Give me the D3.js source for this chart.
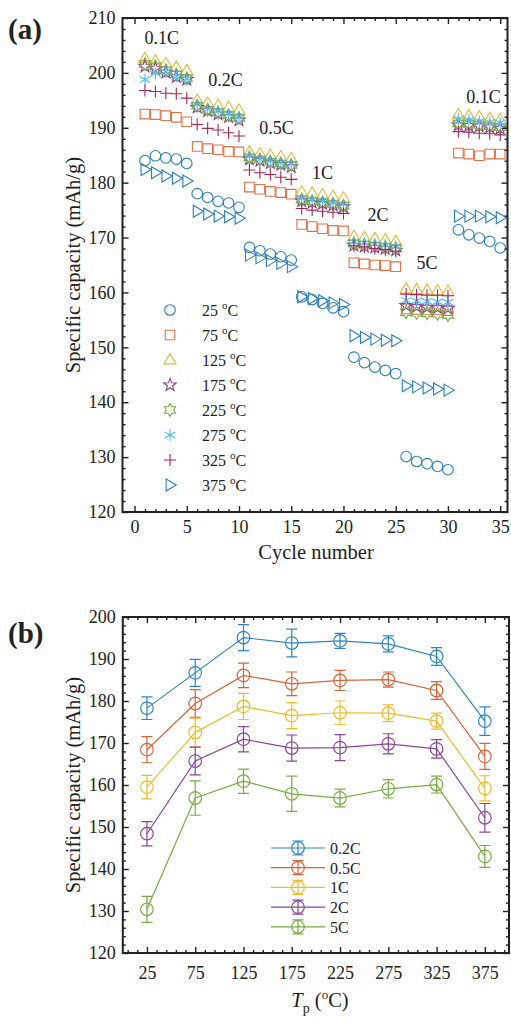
<!DOCTYPE html>
<html><head><meta charset="utf-8">
<script src="https://cdn.jsdelivr.net/npm/d3@7"></script>
<style>
body{margin:0;background:#fff}
svg{display:block}
text{font-family:"Liberation Serif","Times New Roman",serif;fill:#222}
</style>
</head><body>
<svg id="c" width="511" height="1019"></svg>
<script>
// ---------- Panel (a) data ----------
const cycles = d3.range(1, 36);
const tempLabels = ["25", "75", "125", "175", "225", "275", "325", "375"];
const capT25 = [184.0,184.9,184.5,184.3,183.5, 178.0,177.3,176.6,176.3,175.5, 168.2,167.6,167.0,166.5,165.9, 159.2,158.7,158.0,157.2,156.5, 148.2,147.2,146.4,145.8,145.2, 130.1,129.2,128.8,128.3,127.7, 171.4,170.5,169.9,169.3,168.1];
const capT75 = [192.5,192.4,192.2,191.9,191.1, 186.6,186.2,186.0,185.7,185.6, 179.2,178.8,178.4,178.2,177.9, 172.4,172.0,171.6,171.3,171.2, 165.4,165.2,165.0,164.9,164.7, 157.0,156.9,156.8,156.8,156.7, 185.4,185.2,184.9,185.2,185.2];
const capT125 = [202.6,202.2,201.7,201.0,200.4, 195.0,194.5,194.1,193.7,193.2, 185.6,185.3,185.0,184.7,184.4, 178.3,178.1,177.8,177.5,177.2, 170.2,170.0,169.8,169.6,169.3, 160.6,160.5,160.4,160.3,160.2, 192.4,192.2,192.0,191.7,191.5];
const capT175 = [201.2,200.8,200.1,199.3,198.8, 193.7,193.1,192.5,192.0,191.4, 184.3,184.0,183.6,183.3,182.9, 176.7,176.4,176.2,175.9,175.6, 168.6,168.4,168.2,168.0,167.7, 157.6,157.4,157.3,157.2,157.1, 190.5,190.4,190.3,190.1,189.9];
const capT225 = [201.6,201.2,200.5,199.7,199.0, 194.0,193.3,192.8,192.3,191.8, 184.6,184.2,183.8,183.5,183.2, 176.9,176.6,176.4,176.1,175.8, 168.9,168.7,168.5,168.3,168.0, 156.4,156.3,156.2,156.1,155.9, 190.8,190.7,190.5,190.3,190.1];
const capT275 = [198.8,199.9,200.2,199.4,198.9, 194.2,193.4,193.0,192.5,191.9, 184.8,184.3,184.0,183.6,183.4, 177.1,176.8,176.6,176.3,176.0, 169.2,169.0,168.8,168.6,168.4, 158.6,158.5,158.4,158.3,158.2, 191.6,191.4,191.2,191.0,190.9];
const capT325 = [196.8,196.6,196.3,196.2,195.4, 190.6,189.9,189.6,189.1,188.5, 182.3,181.8,181.5,181.0,180.6, 175.3,175.0,174.8,174.6,174.4, 168.5,168.3,168.0,167.8,167.5, 159.7,159.6,159.5,159.5,159.4, 189.3,189.2,189.0,188.9,188.7];
const capT375 = [182.4,181.8,181.2,180.8,180.3, 174.8,174.3,173.9,173.8,173.5, 166.8,166.3,165.8,165.3,164.7, 159.2,158.9,158.5,158.1,157.8, 152.1,151.8,151.5,151.3,151.2, 143.0,142.8,142.6,142.4,142.2, 173.9,173.9,173.9,173.8,173.6];
const xTicksA = [0,5,10,15,20,25,30,35];
const yTicksA = [120,130,140,150,160,170,180,190,200,210];
const rateLabels = ["0.1C","0.2C","0.5C","1C","2C","5C","0.1C"];
const rateLabelCycle = [2.6, 8.7, 13.6, 18.0, 23.3, 28.0, 33.4];
const rateLabelCap = [206.4, 198.7, 190.0, 181.8, 174.1, 165.4, 195.6];

// ---------- Panel (b) data ----------
const tp = [25,75,125,175,225,275,325,375];
const rateNames = ["0.2C","0.5C","1C","2C","5C"];
const cap02 = [178.3,186.7,195.1,193.8,194.3,193.6,190.6,175.2];
const err02 = [2.7,3.2,3.1,3.3,1.8,1.9,2.1,3.4];
const cap05 = [168.4,179.4,186.1,184.1,184.9,185.1,182.5,166.8];
const err05 = [3.1,3.3,2.9,2.8,2.4,1.8,2.1,3.1];
const cap1 = [159.5,172.5,178.7,176.5,177.2,177.1,175.2,159.2];
const err1 = [2.8,3.4,3.1,3.1,2.8,2.0,1.9,3.0];
const cap2 = [148.4,165.7,170.9,168.8,168.9,169.8,168.6,152.2];
const err2 = [2.9,3.3,3.0,3.1,3.1,2.4,2.2,3.4];
const cap5 = [130.4,156.9,160.9,157.9,156.9,159.1,160.1,143.0];
const err5 = [3.1,4.1,2.9,4.2,2.1,2.2,2.0,2.6];
const xTicksB = [25,75,125,175,225,275,325,375];
const yTicksB = [120,130,140,150,160,170,180,190,200];

// ---------- drawing ----------
const svg = d3.select("#c");
const AX = "#222";

function frame(g, x, y, xt, xm, yt, ym, xpad) {
  const [x0, x1] = x.range(), [y0, y1] = y.range();
  const styl = s => { s.select(".domain").remove(); s.selectAll("line").attr("stroke", AX).attr("stroke-width", 1.4); s.selectAll("text").attr("font-size", 18).attr("fill", AX).attr("font-family", "Liberation Serif, Times New Roman, serif"); };
  g.append("g").attr("transform", `translate(0,${y0})`).call(d3.axisBottom(x).tickValues(xt).tickSize(-6).tickSizeOuter(0).tickPadding(xpad)).call(styl);
  g.append("g").attr("transform", `translate(0,${y0})`).call(d3.axisBottom(x).tickValues(xm).tickSize(-3).tickSizeOuter(0).tickFormat("")).call(styl);
  g.append("g").attr("transform", `translate(0,${y1})`).call(d3.axisTop(x).tickValues(xt).tickSize(-6).tickSizeOuter(0).tickFormat("")).call(styl);
  g.append("g").attr("transform", `translate(0,${y1})`).call(d3.axisTop(x).tickValues(xm).tickSize(-3).tickSizeOuter(0).tickFormat("")).call(styl);
  g.append("g").attr("transform", `translate(${x0},0)`).call(d3.axisLeft(y).tickValues(yt).tickSize(-6).tickSizeOuter(0).tickPadding(7)).call(styl);
  g.append("g").attr("transform", `translate(${x0},0)`).call(d3.axisLeft(y).tickValues(ym).tickSize(-3).tickSizeOuter(0).tickFormat("")).call(styl);
  g.append("g").attr("transform", `translate(${x1},0)`).call(d3.axisRight(y).tickValues(yt).tickSize(-6).tickSizeOuter(0).tickFormat("")).call(styl);
  g.append("g").attr("transform", `translate(${x1},0)`).call(d3.axisRight(y).tickValues(ym).tickSize(-3).tickSizeOuter(0).tickFormat("")).call(styl);
  g.append("rect").attr("x", x0).attr("y", y1).attr("width", x1 - x0).attr("height", y0 - y1)
    .attr("fill", "none").attr("stroke", AX).attr("stroke-width", 2);
}

// marker shapes (paths centred at 0,0)
function star(n, ro, ri) {
  const p = [];
  for (let i = 0; i < 2 * n; i++) {
    const a = -Math.PI / 2 + i * Math.PI / n, r = i % 2 ? ri : ro;
    p.push([r * Math.cos(a), r * Math.sin(a)]);
  }
  return "M" + p.map(q => q[0].toFixed(2) + "," + q[1].toFixed(2)).join("L") + "Z";
}
const shapes = [
  "M5.3,0A5.3,5.3 0 1,1 -5.3,0A5.3,5.3 0 1,1 5.3,0Z",
  "M-4.8,-4.8H4.8V4.8H-4.8Z",
  "M0,-6.3L6,3.9L-6,3.9Z",
  star(5, 6.6, 2.7),
  star(6, 6.4, 3.7),
  "M0,-6V6M-5.2,-3L5.2,3M-5.2,3L5.2,-3",
  "M0,-6V6M-6,0H6",
  "M6.3,0L-3.9,-6L-3.9,6Z"
];
const colA = ["#2b7fbf", "#e07448", "#e6b93a", "#8a3f95", "#7aad3e", "#4dbeee", "#a3285a", "#2b7fbf"];
const seriesA = [capT25, capT75, capT125, capT175, capT225, capT275, capT325, capT375];

// ---- Panel (a)
const xA = d3.scaleLinear().domain([-1.15, 35.7]).range([122.5, 507.5]);
const yA = d3.scaleLinear().domain([120, 210]).range([512, 18]);
const gA = svg.append("g");

seriesA.forEach((vals, k) => {
  gA.append("g").selectAll("path").data(vals).join("path")
    .attr("transform", (d, i) => `translate(${xA(cycles[i])},${yA(d)})`)
    .attr("d", shapes[k]).attr("fill", "none").attr("stroke", colA[k]).attr("stroke-width", 1.1);
});
frame(gA, xA, yA, xTicksA, d3.range(0, 36).filter(v => v % 5), yTicksA, d3.range(120, 211, 2).filter(v => v % 10), 8);

gA.append("g").selectAll("text").data(rateLabels).join("text")
  .attr("x", (d, i) => xA(rateLabelCycle[i])).attr("y", (d, i) => yA(rateLabelCap[i]))
  .attr("dy", "0.35em").attr("text-anchor", "middle").attr("font-size", 18).text(d => d);

// legend (a)
const legA = gA.append("g");
tempLabels.forEach((t, k) => {
  const yy = 310 + k * 25;
  legA.append("path").attr("transform", `translate(170,${yy})`).attr("d", shapes[k])
    .attr("fill", "none").attr("stroke", colA[k]).attr("stroke-width", 1.1);
  const tx = legA.append("text").attr("x", 202).attr("y", yy + 6).attr("font-size", 16);
  tx.append("tspan").text(t + " ");
  tx.append("tspan").attr("font-size", 11).attr("dy", -7).text("o");
  tx.append("tspan").attr("dy", 7).text("C");
});

svg.append("text").attr("x", 8).attr("y", 39).attr("font-size", 29).attr("font-weight", "bold").text("(a)");
svg.append("text").attr("transform", "translate(80,265) rotate(-90)").attr("text-anchor", "middle")
  .attr("font-size", 20.5).text("Specific capacity (mAh/g)");
svg.append("text").attr("x", 316).attr("y", 559).attr("text-anchor", "middle").attr("font-size", 20.5).text("Cycle number");

// ---- Panel (b)
const xB = d3.scaleLinear().domain([0, 400]).range([122.8, 509]);
const yB = d3.scaleLinear().domain([120, 200]).range([953, 617]);
const gB = svg.append("g");
const colB = ["#2e86c1", "#d4663a", "#ebbd2e", "#8a4799", "#7aac45"];
const seriesB = [cap02, cap05, cap1, cap2, cap5];
const errB = [err02, err05, err1, err2, err5];

seriesB.forEach((vals, k) => {
  const g = gB.append("g").attr("stroke", colB[k]).attr("fill", "none").attr("stroke-width", 1.2);
  g.append("path").attr("d", d3.line().x((d, i) => xB(tp[i])).y(d => yB(d))(vals));
  vals.forEach((v, i) => {
    const cx = xB(tp[i]), e = errB[k][i];
    const t = yB(v + e), b = yB(v - e);
    g.append("path").attr("d", `M${cx},${t}V${b}M${cx - 5.5},${t}H${cx + 5.5}M${cx - 5.5},${b}H${cx + 5.5}`);
    g.append("circle").attr("cx", cx).attr("cy", yB(v)).attr("r", 6.3);
  });
});
frame(gB, xB, yB, xTicksB, d3.range(5, 400, 10).filter(v => (v - 25) % 50), yTicksB, d3.range(120, 201, 2).filter(v => v % 10), 13);

// legend (b)
const legB = gB.append("g");
rateNames.forEach((r, k) => {
  const yy = 848 + k * 19.7;
  const g = legB.append("g").attr("stroke", colB[k]).attr("fill", "none").attr("stroke-width", 1.2);
  g.append("path").attr("d", `M271,${yy}H325M298,${yy - 7}V${yy + 7}M292.5,${yy - 7}H303.5M292.5,${yy + 7}H303.5`);
  g.append("circle").attr("cx", 298).attr("cy", yy).attr("r", 6.3);
  legB.append("text").attr("x", 330).attr("y", yy + 6).attr("font-size", 16).text(r);
});

svg.append("text").attr("x", 8).attr("y", 643).attr("font-size", 29).attr("font-weight", "bold").text("(b)");
svg.append("text").attr("transform", "translate(80,785) rotate(-90)").attr("text-anchor", "middle")
  .attr("font-size", 20.5).text("Specific capacity (mAh/g)");
const xl = svg.append("text").attr("x", 320).attr("y", 1007).attr("text-anchor", "middle").attr("font-size", 20.5);
xl.append("tspan").attr("font-style", "italic").text("T");
xl.append("tspan").attr("font-size", 14).attr("dy", 6).text("p");
xl.append("tspan").attr("dy", -6).text(" (");
xl.append("tspan").attr("font-size", 13).attr("dy", -8).text("o");
xl.append("tspan").attr("dy", 8).text("C)");
</script>
</body></html>
